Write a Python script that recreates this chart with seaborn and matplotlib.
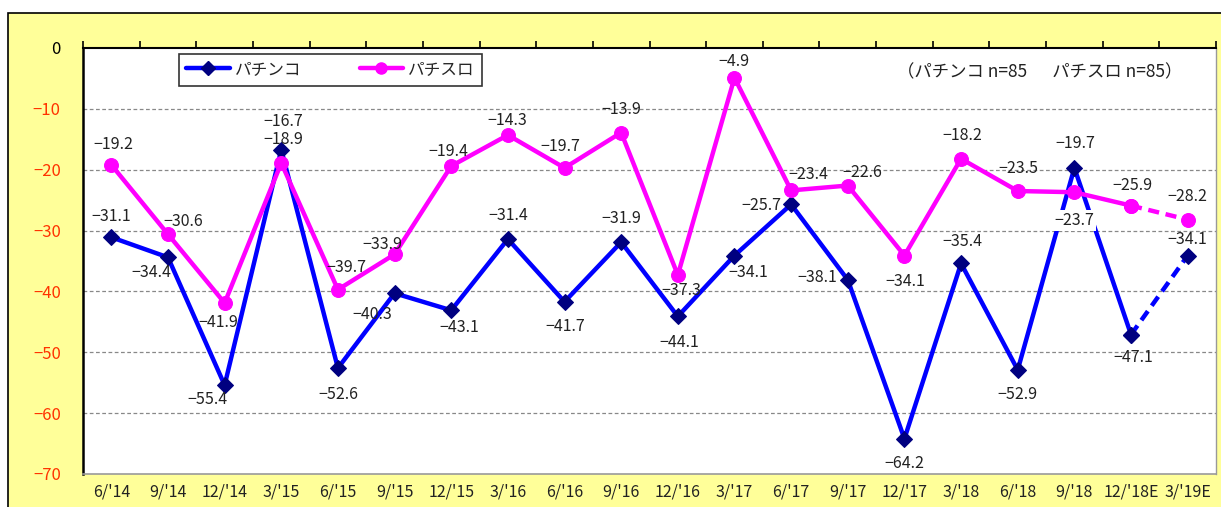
import matplotlib
matplotlib.use("Agg")
import matplotlib.pyplot as plt
from matplotlib.lines import Line2D
from matplotlib.patches import Rectangle
import numpy as np
import pandas as pd
import seaborn as sns

# ---- data ----
categories = ["6/'14", "9/'14", "12/'14", "3/'15", "6/'15", "9/'15", "12/'15", "3/'16",
              "6/'16", "9/'16", "12/'16", "3/'17", "6/'17", "9/'17", "12/'17", "3/'18",
              "6/'18", "9/'18", "12/'18E", "3/'19E"]
pachinko = [-31.1, -34.4, -55.4, -16.7, -52.6, -40.3, -43.1, -31.4, -41.7, -31.9,
            -44.1, -34.1, -25.7, -38.1, -64.2, -35.4, -52.9, -19.7, -47.1, -34.1]
pachislot = [-19.2, -30.6, -41.9, -18.9, -39.7, -33.9, -19.4, -14.3, -19.7, -13.9,
             -37.3, -4.9, -23.4, -22.6, -34.1, -18.2, -23.5, -23.7, -25.9, -28.2]
series_names = ["パチンコ", "パチスロ"]
yticks = [0, -10, -20, -30, -40, -50, -60, -70]
note = "（パチンコ n=85　  パチスロ n=85）"

# label offsets (pixels, dx, dy with y downward)
off_pk = [(0, -21), (-17, 15), (-17, 14), (2, -28), (0, 26), (-22, 21), (8, 17), (0, -24),
          (1, 25), (0, -24), (1, 26), (14, 17), (-30, 1), (-31, -2), (0, 25), (1, -22),
          (0, 25), (1, -24), (2, 23), (0, -16)]
off_ps = [(2, -20), (15, -13), (-6, 20), (2, -24), (8, -22), (-12, -10), (-3, -15), (-1, -15),
          (-4, -21), (0, -23), (4, 16), (-1, -16), (17, -16), (15, -13), (1, 26), (1, -23),
          (1, -23), (0, 28), (1, -20), (0, -23)]

sns.set_theme(style="white")
plt.rcParams['font.family'] = ['Noto Sans CJK JP', 'DejaVu Sans']

W, H = 1221, 507
fig = plt.figure(figsize=(W / 100, H / 100), dpi=100)
fig.patch.set_facecolor("white")

# yellow chart area with black border
bg = Rectangle((8 / W, -0.05), 1.2, (H - 13) / H + 0.05, transform=fig.transFigure,
               facecolor="#FFFF99", edgecolor="black", linewidth=1.2, zorder=-5)
fig.add_artist(bg)

ax = fig.add_axes([83 / W, 1 - 474 / H, (1216 - 83) / W, (474 - 48) / H])
ax.set_zorder(2)
ax.set_facecolor("white")

n = len(categories)
x = np.arange(n)
df = pd.DataFrame({"x": x, "pk": pachinko, "ps": pachislot})

BLUE = "#0000FF"
NAVY = "#000080"
MAG = "#FF00FF"

solid = df.iloc[:n - 1]
dash = df.iloc[n - 2:]

sns.lineplot(data=solid, x="x", y="pk", ax=ax, color=BLUE, lw=3.2, marker="D",
             markersize=8, markerfacecolor=NAVY, markeredgecolor=NAVY, zorder=3)
sns.lineplot(data=dash, x="x", y="pk", ax=ax, color=BLUE, lw=3.2, marker="D",
             markersize=8, markerfacecolor=NAVY, markeredgecolor=NAVY, zorder=3,
             linestyle=(0, (2.5, 1.5)))
sns.lineplot(data=solid, x="x", y="ps", ax=ax, color=MAG, lw=3.2, marker="o",
             markersize=10, markerfacecolor=MAG, markeredgecolor=MAG, zorder=4)
sns.lineplot(data=dash, x="x", y="ps", ax=ax, color=MAG, lw=3.2, marker="o",
             markersize=10, markerfacecolor=MAG, markeredgecolor=MAG, zorder=4,
             linestyle=(0, (2.5, 1.5)))

fs = 11.5
for i in range(n):
    v = pachinko[i]
    dx, dy = off_pk[i]
    ax.annotate(f"{v:.1f}".replace("-", "−"), (x[i], v), xytext=(dx, -dy),
                textcoords="offset pixels", ha="center", va="center", fontsize=fs,
                color="#222222", zorder=6)
    v = pachislot[i]
    dx, dy = off_ps[i]
    kw = {}
    if i == 17:
        kw["bbox"] = dict(facecolor="white", edgecolor="none", pad=1.5)
    ax.annotate(f"{v:.1f}".replace("-", "−"), (x[i], v), xytext=(dx, -dy),
                textcoords="offset pixels", ha="center", va="center", fontsize=fs,
                color="#222222", zorder=6, **kw)

ax.set_xlim(-0.5, n - 0.5)
ax.set_ylim(-70, 0)
ax.set_yticks(yticks)
ax.set_yticklabels([str(t).replace("-", "−") for t in yticks], fontsize=12)
for lbl, t in zip(ax.get_yticklabels(), yticks):
    lbl.set_color("black" if t == 0 else "#FF3300")
ax.tick_params(axis="y", length=0, pad=16)

ax.set_xticks(x)
ax.set_xticklabels(categories, fontsize=11.5, color="#222222")
ax.tick_params(axis="x", which="major", length=0, pad=7, bottom=True, top=False)
ax.set_xticks(np.arange(-0.5, n, 1.0), minor=True)
ax.tick_params(axis="x", which="minor", top=True, bottom=False, direction="out",
               length=5, width=1.2, color="black")
ax.set_xlabel("")
ax.set_ylabel("")

for yv in yticks[1:-1]:
    ax.axhline(yv, color="#888888", lw=0.9, ls=(0, (3, 2)), zorder=1)

ax.spines["top"].set_color("black")
ax.spines["top"].set_linewidth(1.5)
ax.spines["left"].set_color("black")
ax.spines["left"].set_linewidth(1.8)
ax.spines["right"].set_color("#999999")
ax.spines["right"].set_linewidth(1)
ax.spines["bottom"].set_color("#999999")
ax.spines["bottom"].set_linewidth(1.2)
for s in ax.spines.values():
    s.set_visible(True)

handles = [
    Line2D([0], [0], color=BLUE, lw=3.2, marker="D", markersize=7,
           markerfacecolor=NAVY, markeredgecolor=NAVY),
    Line2D([0], [0], color=MAG, lw=3.2, marker="o", markersize=8,
           markerfacecolor=MAG, markeredgecolor=MAG),
]
leg = ax.legend(handles, series_names, ncol=2, loc="center",
                bbox_to_anchor=((330.5 - 83) / (1216 - 83), 1 - (69.5 - 48) / (474 - 48)),
                frameon=True, fancybox=False, edgecolor="black", fontsize=12,
                handlelength=2.6, columnspacing=3.5, borderpad=0.45, handletextpad=0.3,
                borderaxespad=0)
leg.get_frame().set_linewidth(1.2)
leg.set_zorder(7)

ax.text((1040 - 83) / (1216 - 83), 1 - (72 - 48) / (474 - 48), note, transform=ax.transAxes,
        ha="center", va="center", fontsize=12.5, color="#222222", zorder=7)

fig.savefig("out.png", dpi=100)
